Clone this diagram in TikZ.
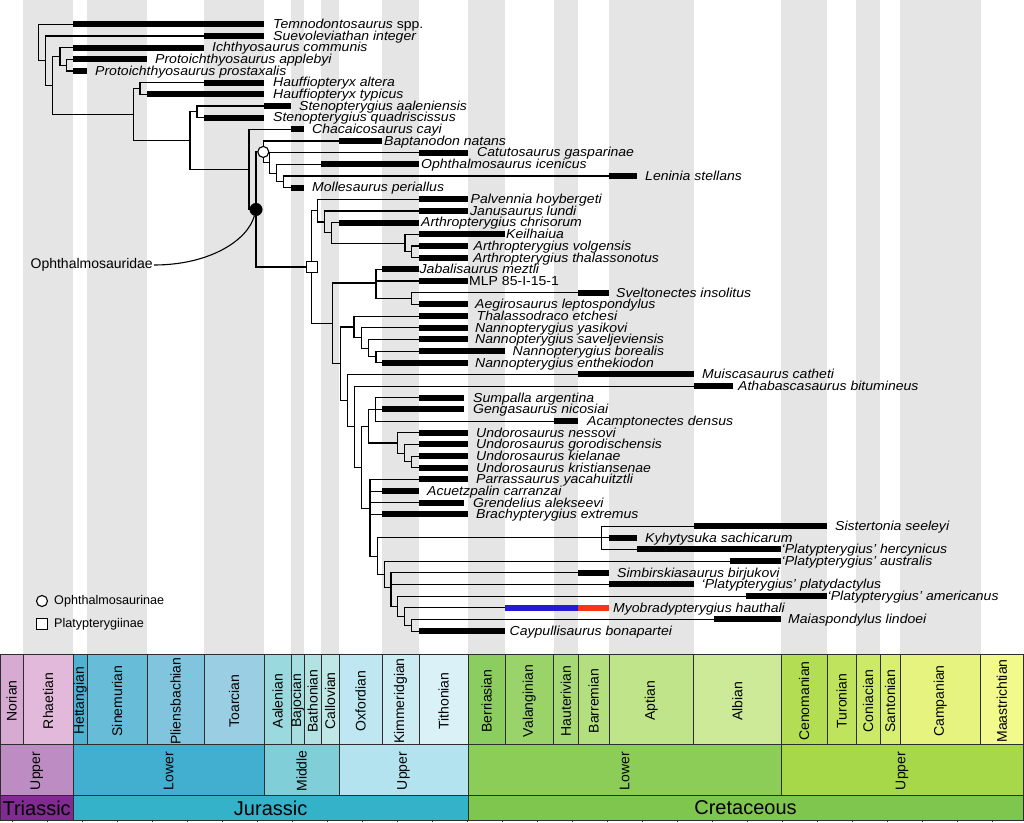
\documentclass[tikz,border=0pt]{standalone}
\usepackage{fontspec}
\setmainfont{Liberation Sans}
\newfontfamily\labfont[FakeStretch=1.08]{Liberation Sans}
\definecolor{gstripe}{RGB}{229,229,229}
\definecolor{lineC}{RGB}{45,45,45}
\definecolor{cBlue}{RGB}{38,26,214}
\definecolor{cRed}{RGB}{250,52,22}
\definecolor{cNor}{HTML}{D6AAD3}
\definecolor{cRha}{HTML}{E3B9DB}
\definecolor{cHet}{HTML}{4EB3D3}
\definecolor{cSin}{HTML}{67BCD8}
\definecolor{cPli}{HTML}{80C5DD}
\definecolor{cToa}{HTML}{99CEE3}
\definecolor{cAal}{HTML}{9AD9DD}
\definecolor{cBaj}{HTML}{A6DDE0}
\definecolor{cBat}{HTML}{B3E2E3}
\definecolor{cCal}{HTML}{BFE7E5}
\definecolor{cOxf}{HTML}{BFE7F1}
\definecolor{cKim}{HTML}{CCECF4}
\definecolor{cTit}{HTML}{D9F1F7}
\definecolor{cBer}{HTML}{8CCD60}
\definecolor{cVal}{HTML}{99D36A}
\definecolor{cHau}{HTML}{A6D975}
\definecolor{cBar}{HTML}{B3DF7F}
\definecolor{cApt}{HTML}{BFE48A}
\definecolor{cAlb}{HTML}{CCEA97}
\definecolor{cCen}{HTML}{B3DE53}
\definecolor{cTur}{HTML}{BFE35D}
\definecolor{cCon}{HTML}{CCE968}
\definecolor{cSan}{HTML}{D9EF74}
\definecolor{cCam}{HTML}{E6F47F}
\definecolor{cMaa}{HTML}{F2FA8C}
\definecolor{cUTr}{HTML}{BD8CC3}
\definecolor{cLJu}{HTML}{42AED0}
\definecolor{cMJu}{HTML}{80CFD8}
\definecolor{cUJu}{HTML}{B3E3EE}
\definecolor{cLK}{HTML}{8CCD57}
\definecolor{cUK}{HTML}{A6D84A}
\definecolor{cTri}{HTML}{812B92}
\definecolor{cJur}{HTML}{34B2C9}
\definecolor{cKre}{HTML}{7FC64E}
\tikzset{
  br/.style={line width=1.1pt, black},
  lab/.style={anchor=base west, inner sep=0pt, font=\labfont\fontsize{13}{13}\selectfont\itshape},
  stg/.style={rotate=90, inner sep=0pt, font=\fontsize{14}{14}\selectfont},
  per/.style={inner sep=0pt, font=\fontsize{20}{20}\selectfont},
  box/.style={draw=lineC, line width=1pt},
  omark/.style={circle, draw=black, fill=white, line width=1.1pt, minimum size=11pt, inner sep=0pt},
  bmark/.style={circle, draw=black, fill=black, minimum size=12.5pt, inner sep=0pt},
  smark/.style={rectangle, draw=black, fill=white, line width=1.1pt, minimum size=11pt, inner sep=0pt},
  leg/.style={anchor=west, inner sep=0pt, font=\fontsize{12.6}{13}\selectfont}
}
% name, y, x1, x2, label, gap
\newcommand\tx[6]{%
  \coordinate (#1) at (#3,#2);
  \fill (#3,#2-3) rectangle (#4,#2+3);
  \node[lab] (#1l) at (#4+#6,#2+4.3) {#5};
}
\begin{document}
\begin{tikzpicture}[x=1pt,y=-1pt]
\useasboundingbox (0,0) rectangle (1024,822);
\fill[white] (0,0) rectangle (1024,822);
% grey stripes
\foreach \a/\b in {23/73.3, 87/147, 204/264, 291/304, 321/339, 382/419, 468/505, 553.5/578, 609/693.5, 781/827, 856/880, 900/980.5}
  \fill[gstripe] (\a,0) rectangle (\b,654);
% stages
\foreach \a/\b/\c/\n in {0/23/cNor/Norian, 23/73.3/cRha/Rhaetian, 73.3/87/cHet/Hettangian, 87/147/cSin/Sinemurian, 147/204/cPli/Pliensbachian, 204/264/cToa/Toarcian, 264/291/cAal/Aalenian, 291/304/cBaj/Bajocian, 304/321/cBat/Bathonian, 321/339/cCal/Callovian, 339/382/cOxf/Oxfordian, 382/419/cKim/Kimmeridgian, 419/468/cTit/Tithonian, 468/505/cBer/Berriasian, 505/553.5/cVal/Valanginian, 553.5/578/cHau/Hauterivian, 578/609/cBar/Barremian, 609/693.5/cApt/Aptian, 693.5/781/cAlb/Albian, 781/827/cCen/Cenomanian, 827/856/cTur/Turonian, 856/880/cCon/Coniacian, 880/900/cSan/Santonian, 900/980.5/cCam/Campanian, 980.5/1023/cMaa/Maastrichtian}
{
  \filldraw[box, fill=\c] (\a,654) rectangle (\b,744);
  \node[stg] (s\n) at ({(\a+\b)/2},701) {\n};
}
% series
\foreach \a/\b/\c/\n/\k in {0/73.3/cUTr/Upper/1, 73.3/264/cLJu/Lower/2, 264/339/cMJu/Middle/3, 339/468/cUJu/Upper/4, 468/781/cLK/Lower/5, 781/1023/cUK/Upper/6}
{
  \filldraw[box, fill=\c] (\a,744) rectangle (\b,795);
  \node[stg] (ser\k) at ({(\a+\b)/2},771) {\n};
}
% periods
\foreach \a/\b/\c/\n in {0/73.3/cTri/Triassic, 73.3/468/cJur/Jurassic, 468/1023/cKre/Cretaceous}
{
  \filldraw[box, fill=\c] (\a,795) rectangle (\b,820);
  \node[per] (p\n) at ({(\a+\b)/2},808) {\n};
}
\foreach \i in {0,...,28}
  \draw[lineC, line width=0.8pt] ({12.7+35*\i},820) -- ({12.7+35*\i},822);

% internal nodes
\coordinate (root) at (38.3,42.52);
\coordinate (nsu) at (45.7,60.73);
\coordinate (nis) at (52.7,85.48);
\coordinate (nich) at (60,56.40);
\coordinate (npro) at (66.7,65.15);
\coordinate (nhs) at (133.3,114.56);
\coordinate (nhau) at (140,88.49);
\coordinate (nso) at (190,140.62);
\coordinate (nste) at (197,111.83);
\coordinate (nchac) at (249,169.41);
\coordinate (noae) at (256,209.49);
\coordinate (noin) at (263.3,151.94);
\coordinate (ncat) at (269.3,162.88);
\coordinate (noph) at (276.7,173.09);
\coordinate (nlm) at (283.3,181.85);
\coordinate (npla) at (311.7,267.03);
\coordinate (npal) at (317.3,210.66);
\coordinate (njan) at (324.3,221.96);
\coordinate (nchr) at (331.7,232.90);
\coordinate (nkei) at (405,243.11);
\coordinate (nat) at (411.7,251.87);
\coordinate (njn) at (332.3,323.39);
\coordinate (njab) at (376,282.99);
\coordinate (nsa) at (411.7,298.55);
\coordinate (nnm) at (340.7,363.79);
\coordinate (nthal) at (354,326.99);
\coordinate (nyas) at (361.7,337.93);
\coordinate (nsav) at (368.3,348.14);
\coordinate (nbo) at (376,356.90);
\coordinate (nmui) at (347.7,400.59);
\coordinate (nath) at (354.3,426.78);
\coordinate (nps) at (361.7,467.48);
\coordinate (nsg) at (368.3,426.18);
\coordinate (nsum) at (375.7,409.41);
\coordinate (nund) at (397.7,442.96);
\coordinate (ngor) at (404.3,453.17);
\coordinate (nkk) at (411.7,461.93);
\coordinate (npar) at (370,508.78);
\coordinate (nsisaus) at (377.2,556.14);
\coordinate (nsis) at (601.6,537.78);
\coordinate (naus) at (384.2,574.49);
\coordinate (nsim) at (391,587.86);
\coordinate (nam) at (397.8,606.34);
\coordinate (nmyo) at (404.5,616.55);
\coordinate (nmc) at (411.6,625.31);

% taxa
\tx{t1}{24.30}{73.3}{264}{Temnodontosaurus \textup{spp.}}{9}
\tx{t2}{35.97}{204}{264}{Suevoleviathan integer}{9}
\tx{t3}{47.64}{73.3}{204}{Ichthyosaurus communis}{8}
\tx{t4}{59.31}{73.3}{147}{Protoichthyosaurus applebyi}{8}
\tx{t5}{70.98}{73.3}{87}{Protoichthyosaurus prostaxalis}{8}
\tx{t6}{82.65}{204}{264}{Hauffiopteryx altera}{9}
\tx{t7}{94.32}{147}{264}{Hauffiopteryx typicus}{9}
\tx{t8}{105.99}{264}{291}{Stenopterygius aaleniensis}{8}
\tx{t9}{117.66}{204}{264}{Stenopterygius quadriscissus}{9}
\tx{t10}{129.33}{291}{304}{Chacaicosaurus cayi}{8}
\tx{t11}{141.00}{339}{382}{Baptanodon natans}{2}
\tx{t12}{152.67}{419}{468}{Catutosaurus gasparinae}{9}
\tx{t13}{164.34}{321}{419}{Ophthalmosaurus icenicus}{2}
\tx{t14}{176.01}{609}{637}{Leninia stellans}{8}
\tx{t15}{187.68}{291}{304}{Mollesaurus periallus}{8}
\tx{t16}{199.35}{419}{468}{Palvennia hoybergeti}{2.5}
\tx{t17}{211.02}{419}{468}{Janusaurus lundi}{2}
\tx{t18}{222.69}{339}{419}{Arthropterygius chrisorum}{2}
\tx{t19}{234.36}{419}{505}{Keilhaiua}{1}
\tx{t20}{246.03}{419}{468}{Arthropterygius volgensis}{5.5}
\tx{t21}{257.70}{419}{468}{Arthropterygius thalassonotus}{5}
\tx{t22}{269.37}{382}{419}{Jabalisaurus meztli}{0.5}
\tx{t23}{281.04}{419}{468}{\textup{MLP 85-I-15-1}}{1}
\tx{t24}{292.71}{578}{609}{Sveltonectes insolitus}{7}
\tx{t25}{304.38}{419}{468}{Aegirosaurus leptospondylus}{7}
\tx{t26}{316.05}{419}{468}{Thalassodraco etchesi}{8.5}
\tx{t27}{327.72}{419}{468}{Nannopterygius yasikovi}{7}
\tx{t28}{339.39}{419}{468}{Nannopterygius saveljeviensis}{7}
\tx{t29}{351.06}{419}{505}{Nannopterygius borealis}{7.5}
\tx{t30}{362.73}{382}{468}{Nannopterygius enthekiodon}{7}
\tx{t31}{374.40}{578}{693.5}{Muiscasaurus catheti}{8.5}
\tx{t32}{386.07}{693.5}{733}{Athabascasaurus bitumineus}{5}
\tx{t33}{397.74}{419}{464}{Sumpalla argentina}{9}
\tx{t34}{409.41}{382}{464}{Gengasaurus nicosiai}{9}
\tx{t35}{421.08}{554}{578}{Acamptonectes densus}{9}
\tx{t36}{432.75}{419}{468}{Undorosaurus nessovi}{8}
\tx{t37}{444.42}{419}{468}{Undorosaurus gorodischensis}{8}
\tx{t38}{456.09}{419}{468}{Undorosaurus kielanae}{8}
\tx{t39}{467.76}{419}{468}{Undorosaurus kristiansenae}{8}
\tx{t40}{479.43}{419}{468}{Parrassaurus yacahuitztli}{8}
\tx{t41}{491.10}{382}{419}{Acuetzpalin carranzai}{8}
\tx{t42}{502.77}{419}{464}{Grendelius alekseevi}{9}
\tx{t43}{514.44}{382}{468}{Brachypterygius extremus}{8}
\tx{t44}{526.11}{693.5}{827}{Sistertonia seeleyi}{8}
\tx{t45}{537.78}{609}{637}{Kyhytysuka sachicarum}{8}
\tx{t46}{549.45}{637}{781}{‘Platypterygius’ hercynicus}{0.5}
\tx{t47}{561.12}{730}{781}{‘Platypterygius’ australis}{0.5}
\tx{t48}{572.79}{578}{609}{Simbirskiasaurus birjukovi}{8}
\tx{t49}{584.46}{609}{693.5}{‘Platypterygius’ platydactylus}{8}
\tx{t50}{596.13}{746}{827}{‘Platypterygius’ americanus}{0.5}
\coordinate (t51) at (505,607.80);
\fill[cBlue] (505,604.8) rectangle (578,610.8);
\fill[cRed] (578,604.8) rectangle (609,610.8);
\node[lab] (t51l) at (613,612.1) {Myobradypterygius hauthali};
\tx{t52}{619.47}{714}{781}{Maiaspondylus lindoei}{7}
\tx{t53}{631.14}{419}{504.5}{Caypullisaurus bonapartei}{5}

% branches
\foreach \p/\c in {root/t1, root/nsu, nsu/t2, nsu/nis, nis/nich, nis/nhs, nich/t3, nich/npro, npro/t4, npro/t5,
  nhs/nhau, nhs/nso, nhau/t6, nhau/t7, nso/nste, nso/nchac, nste/t8, nste/t9, nchac/t10, nchac/noae,
  noae/noin, noae/npla, noin/t11, noin/ncat, ncat/t12, ncat/noph, noph/t13, noph/nlm, nlm/t14, nlm/t15,
  npla/npal, npla/njn, npal/t16, npal/njan, njan/t17, njan/nchr, nchr/t18, nchr/nkei, nkei/t19, nkei/nat, nat/t20, nat/t21,
  njn/njab, njn/nnm, njab/t22, njab/t23, njab/nsa, nsa/t24, nsa/t25,
  nnm/nthal, nnm/nmui, nthal/t26, nthal/nyas, nyas/t27, nyas/nsav, nsav/t28, nsav/nbo, nbo/t29, nbo/t30,
  nmui/t31, nmui/nath, nath/t32, nath/nps, nps/nsg, nps/npar, nsg/nsum, nsg/nund, nsum/t33, nsum/t34, nsum/t35,
  nund/t36, nund/ngor, ngor/t37, ngor/nkk, nkk/t38, nkk/t39,
  npar/t40, npar/t41, npar/t42, npar/t43, npar/nsisaus, nsisaus/nsis, nsisaus/naus, nsis/t44, nsis/t45, nsis/t46,
  naus/t47, naus/nsim, nsim/t48, nsim/t49, nsim/nam, nam/t50, nam/nmyo, nmyo/t51, nmyo/nmc, nmc/t52, nmc/t53}
  \draw[br] (\p) |- (\c);

% clade markers
\node[omark] (mOin) at (noin) {};
\node[bmark] (mOae) at (noae) {};
\node[smark] (mPla) at (npla) {};
\node[inner sep=1pt, anchor=east, font=\fontsize{14}{14}\selectfont] (olab) at (154,265) {Ophthalmosauridae};
\draw[br] (olab.east) .. controls (210,265) and (248,240) .. (mOae);

% legend
\node[omark] (lg1) at (42,601) {};
\node[leg] (lg1t) at (54,601) {Ophthalmosaurinae};
\node[smark] (lg2) at (42,624) {};
\node[leg] (lg2t) at (54,624) {Platypterygiinae};
\end{tikzpicture}
\end{document}
